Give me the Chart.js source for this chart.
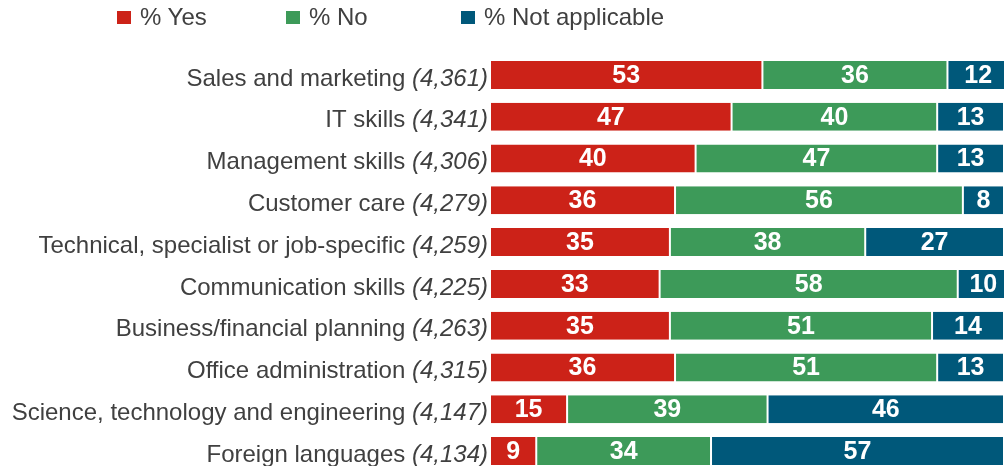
<!DOCTYPE html>
<html>
<head>
<meta charset="utf-8">
<script src="https://cdn.jsdelivr.net/npm/chart.js@4"></script>
<style>
    body { margin: 0; background: #fff; }
    #wrap { position: relative; width: 1004px; height: 466px; overflow: hidden; }
    #box { position: absolute; left: 0; top: 0; width: 1004px; height: 472px; }
    #legend { position: absolute; left: 0; top: 3px; height: 28px; font: 24px 'Liberation Sans', Arial, sans-serif; color: #404040; }
    #legend span.item { position: absolute; top: 0; white-space: nowrap; line-height: 28px; }
    #legend i { display: inline-block; width: 14px; height: 13px; margin-right: 9px; vertical-align: 1px; }
</style>
</head>
<body>
<div id="wrap">
    <div id="box"><canvas id="chart-training"></canvas></div>
    <div id="legend"></div>
</div>
<script>
var categories = ['Sales and marketing', 'IT skills', 'Management skills', 'Customer care',
    'Technical, specialist or job-specific', 'Communication skills', 'Business/financial planning',
    'Office administration', 'Science, technology and engineering', 'Foreign languages'];
var bases = ['(4,361)', '(4,341)', '(4,306)', '(4,279)', '(4,259)', '(4,225)', '(4,263)', '(4,315)', '(4,147)', '(4,134)'];

var yesValues = [53, 47, 40, 36, 35, 33, 35, 36, 15, 9];
var noValues = [36, 40, 47, 56, 38, 58, 51, 51, 39, 34];
var naValues = [12, 13, 13, 8, 27, 10, 14, 13, 46, 57];

var seriesNames = ['% Yes', '% No', '% Not applicable'];
var seriesColors = ['#CC2218', '#3D9A59', '#00587A'];
var legendLeft = [117, 286, 461];

// legend (html, fixed spots like the original)
var legendEl = document.getElementById('legend');
seriesNames.forEach((name, i) => {
    var s = document.createElement('span');
    s.className = 'item';
    s.style.left = legendLeft[i] + 'px';
    s.innerHTML = '<i style="background:' + seriesColors[i] + '"></i>' + name;
    legendEl.appendChild(s);
});

// category labels: name regular + base in italic
var categoryLabels = {
    id: 'categoryLabels',
    afterDraw(chart) {
        var ctx = chart.ctx, y = chart.scales.y, right = chart.chartArea.left - 2;
        ctx.save();
        ctx.fillStyle = '#404040';
        ctx.textBaseline = 'middle';
        ctx.textAlign = 'right';
        categories.forEach((name, i) => {
            var py = y.getPixelForValue(i) + 4;
            ctx.font = "italic 24px 'Liberation Sans', Arial, sans-serif";
            ctx.fillText(bases[i], right, py);
            var w = ctx.measureText(bases[i]).width;
            ctx.font = "24px 'Liberation Sans', Arial, sans-serif";
            ctx.fillText(name + ' ', right - w, py);
        });
        ctx.restore();
    }
};

// value labels in the middle of each segment
var valueLabels = {
    id: 'valueLabels',
    afterDatasetsDraw(chart) {
        var ctx = chart.ctx;
        ctx.save();
        ctx.fillStyle = '#fff';
        ctx.font = "bold 25px 'Liberation Sans Narrow', 'Arial Narrow', sans-serif";
        ctx.textAlign = 'center';
        ctx.textBaseline = 'middle';
        chart.data.datasets.forEach((ds, d) => {
            chart.getDatasetMeta(d).data.forEach((bar, i) => {
                var right = Math.min(bar.x, chart.chartArea.right + 5);
                ctx.fillText(ds.data[i], (right + bar.base) / 2, bar.y + 1);
            });
        });
        ctx.restore();
    }
};

var chartTraining = new Chart(document.getElementById('chart-training').getContext('2d'), {
    type: 'bar',
    data: {
        labels: categories,
        datasets: [
            { label: seriesNames[0], data: yesValues, backgroundColor: seriesColors[0] },
            { label: seriesNames[1], data: noValues, backgroundColor: seriesColors[1] },
            { label: seriesNames[2], data: naValues, backgroundColor: seriesColors[2] },
        ].map(ds => Object.assign(ds, {
            borderColor: '#fff',
            borderWidth: { left: 1, right: 1, top: 0, bottom: 0 },
            borderSkipped: false,
            categoryPercentage: 1,
            barPercentage: 0.67,
        }))
    },
    options: {
        indexAxis: 'y',
        responsive: true,
        maintainAspectRatio: false,
        animation: false,
        layout: { padding: { left: 490, top: 54, right: 0, bottom: 0 } },
        plugins: {
            legend: { display: false },
            tooltip: { enabled: false },
        },
        scales: {
            x: { stacked: true, min: 0, max: 100, display: false },
            y: { stacked: true, display: false }
        }
    },
    plugins: [categoryLabels, valueLabels]
});
</script>
</body>
</html>
